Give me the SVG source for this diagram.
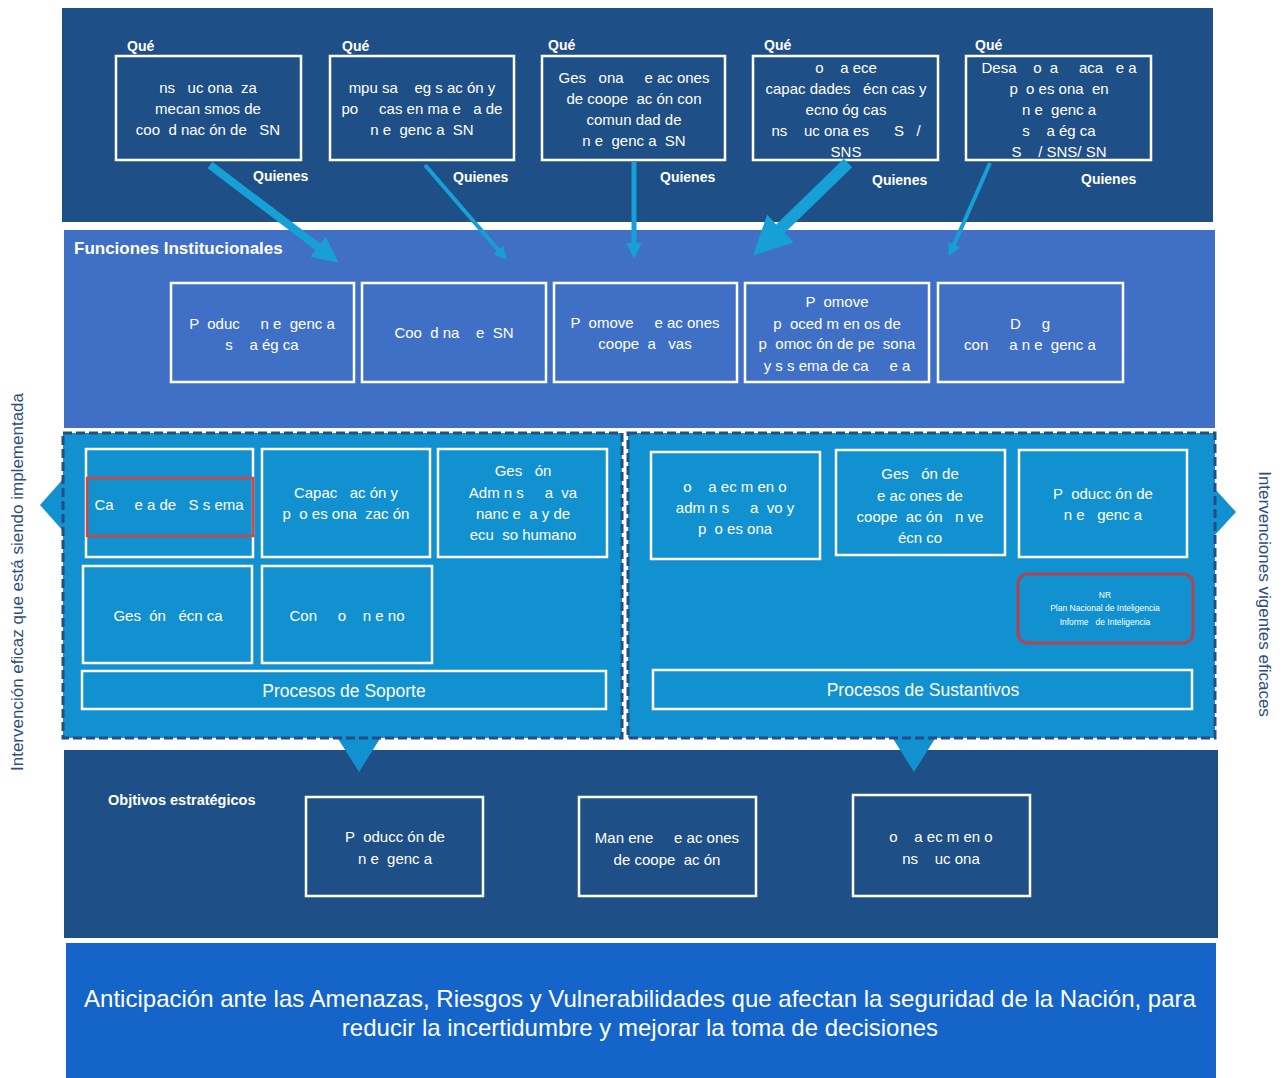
<svg xmlns="http://www.w3.org/2000/svg" width="1285" height="1078" viewBox="0 0 1285 1078">
<style>
text{font-family:"Liberation Sans",Arial,sans-serif;fill:#fff;white-space:pre}
.t{font-size:15px;text-anchor:middle}
.q{font-size:14px;font-weight:bold}
.b{fill:none;stroke:#fff;stroke-width:2.5}
.p{fill:#1191cf}
.pd{fill:none;stroke:#274b82;stroke-width:3;stroke-dasharray:9 4}
.ar{stroke:#17a0d6;fill:none}
.side{font-size:17px;fill:#2d4e7c;text-anchor:middle}
</style>
<defs>
<marker id="ah" viewBox="0 0 10 10" refX="2" refY="5" markerWidth="3.2" markerHeight="3.2" orient="auto" markerUnits="strokeWidth">
<path d="M0,0 L10,5 L0,10 z" fill="#17a0d6"/>
</marker>
</defs>
<rect width="1285" height="1078" fill="#fff"/>
<!-- bands -->
<rect x="62" y="8" width="1151" height="214" fill="#1f4f87"/>
<rect x="64" y="230" width="1151" height="198" fill="#4070c6"/>
<rect x="64" y="750" width="1154" height="188" fill="#1f4f87"/>
<rect x="66" y="943" width="1150" height="135" fill="#1464c9"/>
<!-- panels -->
<g id="panel-soporte">
<rect class="p" x="63" y="433" width="559" height="305"/>
<polygon class="p" points="64,478 40,505 64,532"/>
<polygon class="p" points="337,737 381,737 359,772"/>
<rect class="pd" x="63" y="433" width="559" height="305"/>
</g>
<g id="panel-sustantivos">
<rect class="p" x="628" y="433" width="587" height="305"/>
<polygon class="p" points="1214,488 1236,512 1214,536"/>
<polygon class="p" points="892,737 936,737 914,772"/>
<rect class="pd" x="628" y="433" width="587" height="305"/>
</g>
<!-- side labels -->
<text class="side" transform="translate(23,582) rotate(-90)">Intervención eficaz que está siendo implementada</text>
<text class="side" transform="translate(1259,594) rotate(90)">Intervenciones vigentes eficaces</text>
<!-- top boxes -->
<g id="que1">
<text class="q" x="127" y="51">Qué</text>
<rect class="b" x="116" y="56" width="185" height="104"/>
<text class="t" x="208" y="93">ns   uc ona  za</text>
<text class="t" x="208" y="114">mecan smos de</text>
<text class="t" x="208" y="135">coo  d nac ón de   SN</text>
<text class="q" x="253" y="181">Quienes</text>
</g>
<g id="que2">
<text class="q" x="342" y="51">Qué</text>
<rect class="b" x="330" y="56" width="184" height="104"/>
<text class="t" x="422" y="93">mpu sa    eg s ac ón y</text>
<text class="t" x="422" y="114">po     cas en ma e   a de</text>
<text class="t" x="422" y="135">n e  genc a  SN</text>
<text class="q" x="453" y="182">Quienes</text>
</g>
<g id="que3">
<text class="q" x="548" y="50">Qué</text>
<rect class="b" x="542" y="56" width="183" height="104"/>
<text class="t" x="634" y="83">Ges   ona     e ac ones</text>
<text class="t" x="634" y="104">de coope  ac ón con</text>
<text class="t" x="634" y="125">comun dad de</text>
<text class="t" x="634" y="146">n e  genc a  SN</text>
<text class="q" x="660" y="182">Quienes</text>
</g>
<g id="que4">
<text class="q" x="764" y="50">Qué</text>
<rect class="b" x="753" y="56" width="185" height="104"/>
<text class="t" x="846" y="73">o    a ece</text>
<text class="t" x="846" y="94">capac dades   écn cas y</text>
<text class="t" x="846" y="115">ecno óg cas</text>
<text class="t" x="846" y="136">ns    uc ona es      S   /</text>
<text class="t" x="846" y="157">SNS</text>
<text class="q" x="872" y="185">Quienes</text>
</g>
<g id="que5">
<text class="q" x="975" y="50">Qué</text>
<rect class="b" x="966" y="56" width="185" height="104"/>
<text class="t" x="1059" y="73">Desa    o  a     aca   e a</text>
<text class="t" x="1059" y="94">p  o es ona  en</text>
<text class="t" x="1059" y="115">n e  genc a</text>
<text class="t" x="1059" y="136">s    a ég ca</text>
<text class="t" x="1059" y="157">S    / SNS/ SN</text>
<text class="q" x="1081" y="184">Quienes</text>
</g>
<!-- connectors -->
<g id="connectors">
<line class="ar" x1="210" y1="165" x2="322" y2="250" stroke-width="8" marker-end="url(#ah)"/>
<line class="ar" x1="425" y1="165" x2="500" y2="252" stroke-width="4" marker-end="url(#ah)"/>
<line class="ar" x1="634" y1="162" x2="634" y2="246" stroke-width="5" marker-end="url(#ah)"/>
<line class="ar" x1="848" y1="163" x2="775" y2="234" stroke-width="12" marker-end="url(#ah)"/>
<line class="ar" x1="990" y1="163" x2="953" y2="247" stroke-width="4" marker-end="url(#ah)"/>
</g>
<!-- funciones -->
<text x="74" y="254" style="font-size:17px;font-weight:bold">Funciones Institucionales</text>
<g id="f1"><rect class="b" x="171" y="283" width="183" height="99"/>
<text class="t" x="262" y="329">P  oduc     n e  genc a</text>
<text class="t" x="262" y="350">s    a ég ca</text></g>
<g id="f2"><rect class="b" x="362" y="283" width="184" height="99"/>
<text class="t" x="454" y="338">Coo  d na    e  SN</text></g>
<g id="f3"><rect class="b" x="554" y="283" width="183" height="99"/>
<text class="t" x="645" y="328">P  omove     e ac ones</text>
<text class="t" x="645" y="349">coope  a   vas</text></g>
<g id="f4"><rect class="b" x="745" y="283" width="184" height="99"/>
<text class="t" x="837" y="307">P  omove</text>
<text class="t" x="837" y="329">p  oced m en os de</text>
<text class="t" x="837" y="349">p  omoc ón de pe  sona</text>
<text class="t" x="837" y="371">y s s ema de ca     e a</text></g>
<g id="f5"><rect class="b" x="938" y="283" width="185" height="99"/>
<text class="t" x="1030" y="329">D     g</text>
<text class="t" x="1030" y="350">con     a n e  genc a</text></g>
<!-- soporte -->
<g id="s1"><rect class="b" x="86" y="449" width="167" height="108"/>
<rect x="87" y="478" width="166" height="58" fill="none" stroke="#d8443c" stroke-width="2.5"/>
<text class="t" x="169" y="510">Ca     e a de   S s ema</text></g>
<g id="s2"><rect class="b" x="262" y="449" width="168" height="108"/>
<text class="t" x="346" y="498">Capac   ac ón y</text>
<text class="t" x="346" y="519">p  o es ona  zac ón</text></g>
<g id="s3"><rect class="b" x="438" y="449" width="169" height="108"/>
<text class="t" x="523" y="476">Ges   ón</text>
<text class="t" x="523" y="498">Adm n s     a  va</text>
<text class="t" x="523" y="519">nanc e  a y de</text>
<text class="t" x="523" y="540">ecu  so humano</text></g>
<g id="s4"><rect class="b" x="83" y="566" width="169" height="97"/>
<text class="t" x="168" y="621">Ges  ón   écn ca</text></g>
<g id="s5"><rect class="b" x="262" y="566" width="170" height="97"/>
<text class="t" x="347" y="621">Con     o    n e no</text></g>
<g id="soporte"><rect class="b" x="82" y="671" width="524" height="38"/>
<text x="344" y="697" style="font-size:17.5px;text-anchor:middle">Procesos de Soporte</text></g>
<!-- sustantivos -->
<g id="u1"><rect class="b" x="651" y="452" width="169" height="107"/>
<text class="t" x="735" y="492">o    a ec m en o</text>
<text class="t" x="735" y="513">adm n s     a  vo y</text>
<text class="t" x="735" y="534">p  o es ona</text></g>
<g id="u2"><rect class="b" x="836" y="450" width="169" height="105"/>
<text class="t" x="920" y="479">Ges   ón de</text>
<text class="t" x="920" y="501">e ac ones de</text>
<text class="t" x="920" y="522">coope  ac ón   n ve</text>
<text class="t" x="920" y="543">écn co</text></g>
<g id="u3"><rect class="b" x="1019" y="450" width="168" height="107"/>
<text class="t" x="1103" y="499">P  oducc ón de</text>
<text class="t" x="1103" y="520">n e   genc a</text></g>
<g id="nr"><rect x="1018" y="574" width="175" height="69" rx="10" fill="none" stroke="#b2444f" stroke-width="3"/>
<text x="1105" y="598" style="font-size:8.5px;text-anchor:middle">NR</text>
<text x="1105" y="611" style="font-size:8.5px;text-anchor:middle">Plan Nacional de Inteligencia</text>
<text x="1105" y="625" style="font-size:8.5px;text-anchor:middle">Informe   de Inteligencia</text></g>
<g id="sustantivos"><rect class="b" x="653" y="670" width="539" height="39"/>
<text x="923" y="696" style="font-size:17.5px;text-anchor:middle">Procesos de Sustantivos</text></g>
<!-- objetivos -->
<text x="108" y="805" style="font-size:14.5px;font-weight:bold">Objtivos estratégicos</text>
<g id="o1"><rect class="b" x="306" y="797" width="177" height="99"/>
<text class="t" x="395" y="842">P  oducc ón de</text>
<text class="t" x="395" y="864">n e  genc a</text></g>
<g id="o2"><rect class="b" x="579" y="797" width="177" height="99"/>
<text class="t" x="667" y="843">Man ene     e ac ones</text>
<text class="t" x="667" y="865">de coope  ac ón</text></g>
<g id="o3"><rect class="b" x="853" y="795" width="177" height="101"/>
<text class="t" x="941" y="842">o    a ec m en o</text>
<text class="t" x="941" y="864">ns    uc ona</text></g>
<!-- vision -->
<text x="640" y="1007" style="font-size:24px;text-anchor:middle">Anticipación ante las Amenazas, Riesgos y Vulnerabilidades que afectan la seguridad de la Nación, para</text>
<text x="640" y="1036" style="font-size:24px;text-anchor:middle">reducir la incertidumbre y mejorar la toma de decisiones</text>
</svg>
